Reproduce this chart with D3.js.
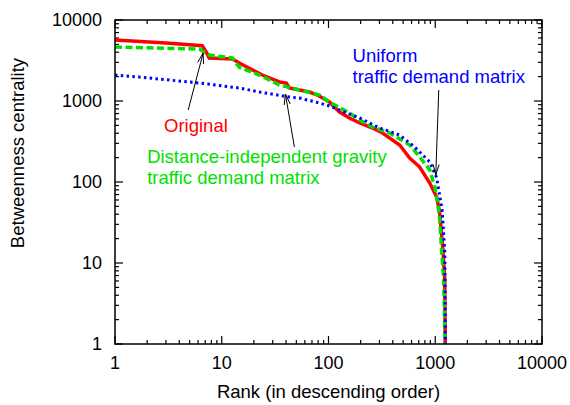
<!DOCTYPE html>
<html>
<head>
<meta charset="utf-8">
<script src="https://cdn.jsdelivr.net/npm/d3@7"></script>
<style>
  body { margin: 0; background: #fff; }
  text { font-family: "Liberation Sans", Arial, Helvetica, sans-serif; }
</style>
</head>
<body>
<svg id="chart" width="570" height="405"></svg>
<script>
// [rank, betweenness]
const originalSeries = [
    [1, 5665], [3, 5200], [6.56, 4818], [7.15, 4030], [7.63, 3396], [12.6, 3302],
    [14.6, 2945], [24, 2094], [34.7, 1717], [40.3, 1668], [43, 1447], [66.3, 1291],
    [78.8, 1186], [102, 972], [127, 731], [157, 617], [196, 535], [259, 464],
    [321, 403], [464, 286], [576, 198], [715, 153], [888, 97], [1033, 65],
    [1102, 41], [1175, 15.8], [1228, 6.2], [1240, 1]
];
const gravitySeries = [
    [1, 4642], [6.15, 4385], [7.63, 3698], [12.6, 3396], [14.6, 2600], [22.5, 2094],
    [34.7, 1576], [53.4, 1367], [82.3, 1186], [102, 972], [157, 711], [196, 582],
    [259, 477], [374, 403], [576, 286], [715, 204], [888, 141], [989, 87],
    [1055, 55], [1102, 34], [1150, 13.3], [1201, 6.2], [1235, 1]
];
const uniformSeries = [
    [1, 2094], [1.68, 1977], [6.15, 1668], [14.6, 1447], [22.5, 1291], [43, 1120],
    [53.4, 1088], [82.3, 945], [102, 868], [141, 731], [196, 617], [301, 464],
    [464, 380], [642, 270], [888, 177], [1033, 112], [1160, 45], [1228, 14], [1245, 1]
];

const xTicks = [1, 10, 100, 1000, 10000];
const yTicks = [1, 10, 100, 1000, 10000];

// annotations, in data units: label anchor and arrow tail -> tip
const labelOriginal = {text: ["Original"], at: [2.88, 414]};
const labelGravity = {text: ["Distance-independent gravity", "traffic demand matrix"], at: [2.0, 172]};
const labelUniform = {text: ["Uniform", "traffic demand matrix"], at: [168, 3030]};
const arrowOriginal = [[4.85, 774], [6.7, 3918]];
const arrowGravity = [[47.9, 270], [39.5, 1218]];
const arrowUniform = [[1079, 1367], [1011, 122]];

const width = 570, height = 405;
const margin = {top: 20, right: 28, bottom: 61, left: 115};
const fontSize = 18;
const labelSize = 18.5;

let svg = d3.select("#chart");

let x = d3.scaleLog()
    .domain([1, 10000])
    .range([margin.left, width - margin.right]);

let y = d3.scaleLog()
    .domain([1, 10000])
    .range([height - margin.bottom, margin.top]);

// minor ticks 2..9 per decade
function minorTicks(domain) {
    let out = [];
    for (let d = domain[0]; d < domain[1]; d *= 10) {
        for (let k = 2; k <= 9; k++) out.push(d * k);
    }
    return out;
}

let x0 = x.range()[0], x1 = x.range()[1];
let y0 = y.range()[0], y1 = y.range()[1];
let majorLen = 8, minorLen = 4;

let ticksG = svg.append("g")
    .attr("stroke", "#000")
    .attr("stroke-width", 1.2);

// x ticks, bottom and top, pointing inward
xTicks.forEach(function(t) {
    ticksG.append("line").attr("x1", x(t)).attr("x2", x(t)).attr("y1", y0).attr("y2", y0 - majorLen);
    ticksG.append("line").attr("x1", x(t)).attr("x2", x(t)).attr("y1", y1).attr("y2", y1 + majorLen);
});
minorTicks(x.domain()).forEach(function(t) {
    ticksG.append("line").attr("x1", x(t)).attr("x2", x(t)).attr("y1", y0).attr("y2", y0 - minorLen);
    ticksG.append("line").attr("x1", x(t)).attr("x2", x(t)).attr("y1", y1).attr("y2", y1 + minorLen);
});
// y ticks, left and right
yTicks.forEach(function(t) {
    ticksG.append("line").attr("x1", x0).attr("x2", x0 + majorLen).attr("y1", y(t)).attr("y2", y(t));
    ticksG.append("line").attr("x1", x1).attr("x2", x1 - majorLen).attr("y1", y(t)).attr("y2", y(t));
});
minorTicks(y.domain()).forEach(function(t) {
    ticksG.append("line").attr("x1", x0).attr("x2", x0 + minorLen).attr("y1", y(t)).attr("y2", y(t));
    ticksG.append("line").attr("x1", x1).attr("x2", x1 - minorLen).attr("y1", y(t)).attr("y2", y(t));
});

// tick labels
svg.append("g").selectAll("text")
    .data(xTicks)
    .join("text")
    .attr("x", d => x(d))
    .attr("y", y0 + 25)
    .attr("text-anchor", "middle")
    .style("font-size", fontSize + "px")
    .text(d => d);

svg.append("g").selectAll("text")
    .data(yTicks)
    .join("text")
    .attr("x", x0 - 13)
    .attr("y", d => y(d) + 6)
    .attr("text-anchor", "end")
    .style("font-size", fontSize + "px")
    .text(d => d);

// axis titles
svg.append("text")
    .attr("x", (x0 + x1) / 2)
    .attr("y", y0 + 54)
    .attr("text-anchor", "middle")
    .style("font-size", labelSize + "px")
    .text("Rank (in descending order)");

svg.append("text")
    .attr("transform", "translate(24," + 153 + ") rotate(-90)")
    .attr("text-anchor", "middle")
    .style("font-size", labelSize + "px")
    .text("Betweenness centrality");

// curves
let line = d3.line()
    .x(d => x(d[0]))
    .y(d => y(d[1]));

svg.append("path")
    .datum(originalSeries)
    .attr("d", line)
    .attr("fill", "none")
    .attr("stroke", "#ff0000")
    .attr("stroke-width", 3.5);

svg.append("path")
    .datum(gravitySeries)
    .attr("d", line)
    .attr("fill", "none")
    .attr("stroke", "#00e000")
    .attr("stroke-width", 3.5)
    .attr("stroke-dasharray", "7,3.5");

svg.append("path")
    .datum(uniformSeries)
    .attr("d", line)
    .attr("fill", "none")
    .attr("stroke", "#0000ff")
    .attr("stroke-width", 3)
    .attr("stroke-dasharray", "2.5,3.3");

// frame
svg.append("rect")
    .attr("x", x0)
    .attr("y", y1)
    .attr("width", x1 - x0)
    .attr("height", y0 - y1)
    .attr("fill", "none")
    .attr("stroke", "#000")
    .attr("stroke-width", 1.5);

// labels
function drawLabel(label, color) {
    let t = svg.append("text")
        .attr("x", x(label.at[0]))
        .attr("y", y(label.at[1]))
        .attr("fill", color)
        .style("font-size", labelSize + "px");
    label.text.forEach(function(s, i) {
        t.append("tspan")
            .attr("x", x(label.at[0]))
            .attr("dy", i === 0 ? 0 : 21)
            .text(s);
    });
}
drawLabel(labelOriginal, "#ff0000");
drawLabel(labelGravity, "#00e000");
drawLabel(labelUniform, "#0000ff");

// arrows with open heads
function drawArrow(a) {
    let sx = x(a[0][0]), sy = y(a[0][1]);
    let ex = x(a[1][0]), ey = y(a[1][1]);
    let ang = Math.atan2(ey - sy, ex - sx);
    let headLen = 11, spread = 0.28;
    svg.append("line")
        .attr("x1", sx).attr("y1", sy).attr("x2", ex).attr("y2", ey)
        .attr("stroke", "#000").attr("stroke-width", 1);
    [-spread, spread].forEach(function(s) {
        svg.append("line")
            .attr("x1", ex).attr("y1", ey)
            .attr("x2", ex - headLen * Math.cos(ang + s))
            .attr("y2", ey - headLen * Math.sin(ang + s))
            .attr("stroke", "#000").attr("stroke-width", 1);
    });
}
drawArrow(arrowOriginal);
drawArrow(arrowGravity);
drawArrow(arrowUniform);
</script>
</body>
</html>
